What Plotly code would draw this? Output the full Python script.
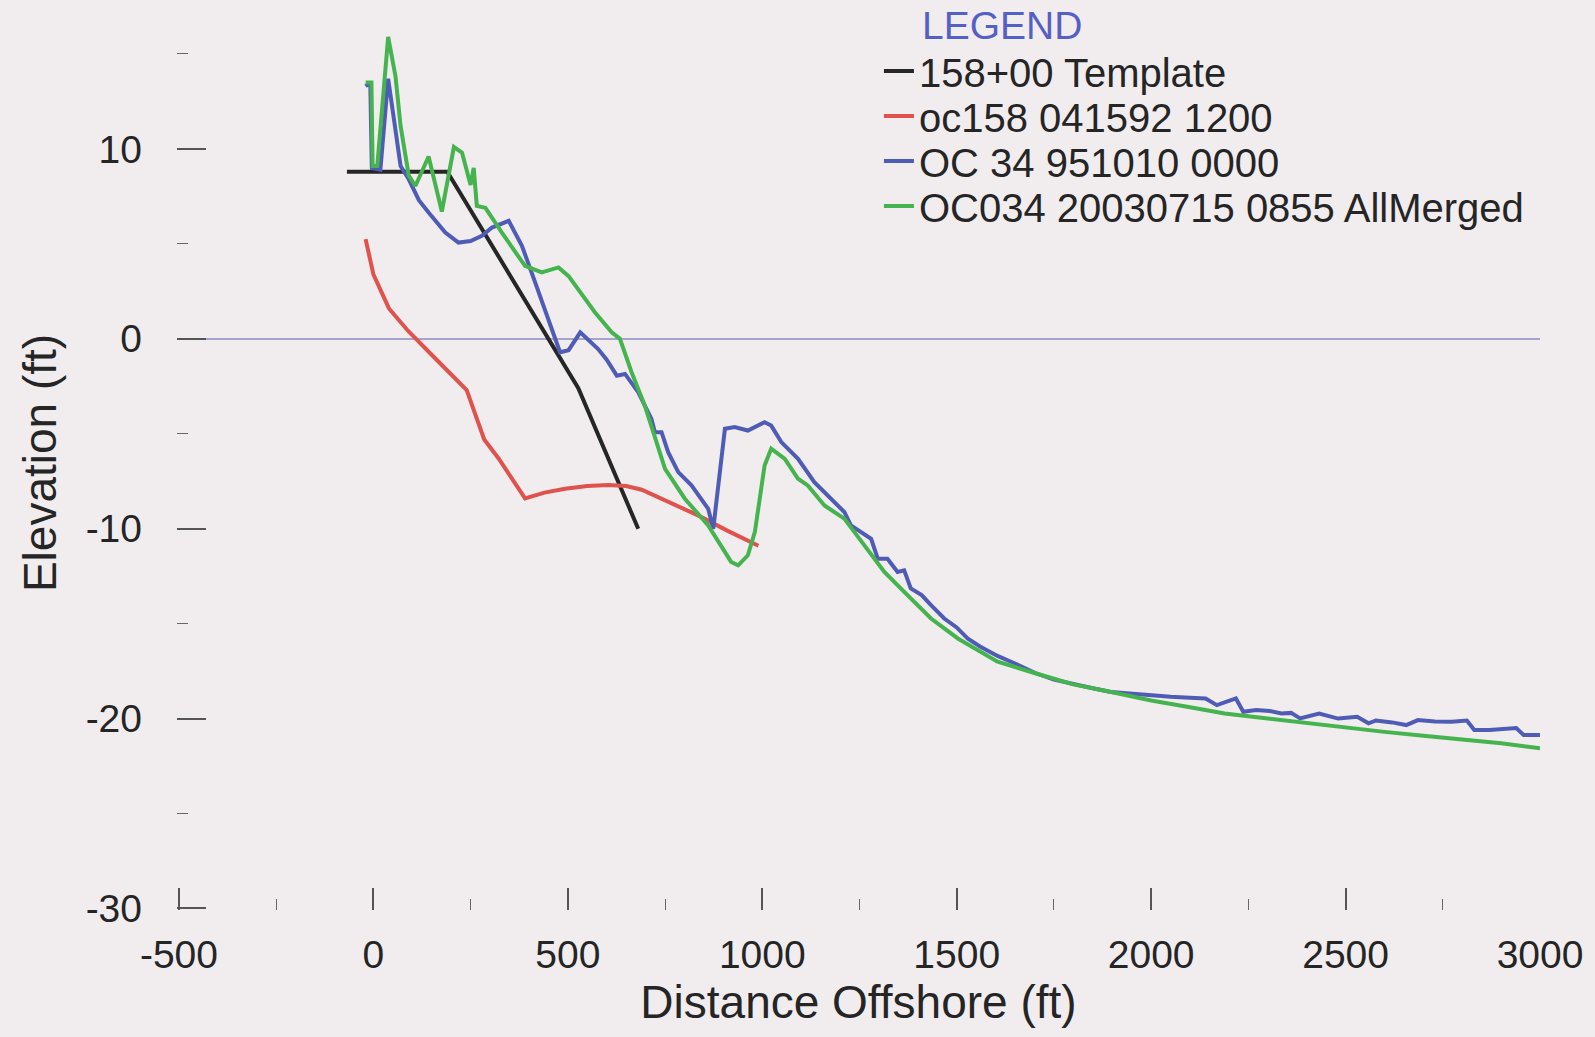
import plotly.graph_objects as go

# ---- data ----
template_x = [-68, 190, 527, 681]
template_y = [8.8, 8.8, -2.6, -10.0]

red_x = [-20, 0, 40, 90, 160, 240, 285, 322, 390, 440, 493, 550, 604, 650, 690, 750, 835, 910, 990]
red_y = [5.25, 3.4, 1.6, 0.4, -1.05, -2.7, -5.3, -6.3, -8.4, -8.1, -7.9, -7.75, -7.7, -7.75, -7.95, -8.5, -9.3, -10.1, -10.9]

blue_x = [-20, -8, -4, 18, 38, 70, 91, 117, 142, 185, 219, 250, 279, 305, 348, 382, 416, 451, 480, 502,
          532, 578, 600, 626, 647, 681, 715, 724, 741, 758, 784, 818, 844, 861, 874, 904, 929, 963, 1006, 1023,
          1049, 1092, 1134, 1177, 1211, 1228, 1254, 1280, 1297, 1322, 1348, 1365, 1382, 1410, 1434, 1468, 1500, 1528, 1560, 1605,
          1650, 1702, 1750, 1800, 1850, 1897, 1950, 1994, 2050, 2100, 2140, 2169, 2218, 2237, 2270, 2305, 2335, 2360, 2383, 2432,
          2481, 2530, 2559, 2578, 2620, 2656, 2686, 2730, 2773, 2812, 2831, 2870, 2910, 2939, 2958, 3000]
blue_y = [13.3, 13.5, 9.0, 8.9, 13.7, 9.1, 8.4, 7.3, 6.65, 5.6, 5.07, 5.15, 5.42, 5.86, 6.21, 4.9, 2.97, 1.04, -0.71, -0.6,
          0.34, -0.54, -1.1, -1.94, -1.85, -2.81, -4.22, -4.92, -4.92, -5.97, -7.02, -7.72, -8.42, -8.95, -10.0, -4.74, -4.65, -4.83, -4.39, -4.57,
          -5.44, -6.32, -7.55, -8.42, -9.12, -9.83, -10.17, -10.53, -11.58, -11.58, -12.28, -12.19, -13.15, -13.5, -14.03, -14.73, -15.2, -15.78, -16.2, -16.7,
          -17.1, -17.6, -17.95, -18.2, -18.4, -18.6, -18.7, -18.76, -18.85, -18.9, -18.94, -19.29, -18.94, -19.64, -19.55, -19.6, -19.73, -19.7, -19.99, -19.73,
          -20.0, -19.9, -20.25, -20.1, -20.2, -20.34, -20.08, -20.15, -20.17, -20.1, -20.6, -20.6, -20.55, -20.5, -20.87, -20.87]

green_x = [-20, -5, -2, 10, 38, 57, 70, 91, 108, 142, 176, 207, 228, 250, 258, 266, 288, 330, 390, 433,
           476, 502, 570, 613, 634, 664, 698, 724, 750, 801, 861, 920, 938, 963, 981, 1006, 1023, 1058, 1092, 1117,
           1160, 1211, 1263, 1314, 1365, 1434, 1503, 1605, 1700, 1800, 1897, 2000, 2100, 2189, 2300, 2400, 2481, 2600, 2700, 2773,
           2900, 3000]
green_y = [13.5, 13.5, 9.1, 9.1, 15.9, 13.8, 11.2, 8.6, 8.05, 9.6, 6.7, 10.1, 9.8, 8.1, 9.0, 7.0, 6.9, 5.6, 3.84, 3.5,
           3.76, 3.3, 1.39, 0.34, 0.0, -1.76, -3.52, -5.27, -6.85, -8.42, -9.83, -11.75, -11.93, -11.4, -10.17, -6.67, -5.79, -6.32, -7.37, -7.72,
           -8.78, -9.47, -10.88, -12.28, -13.33, -14.73, -15.78, -17.0, -17.6, -18.2, -18.6, -19.05, -19.4, -19.73, -20.0, -20.25, -20.43, -20.7, -20.9, -21.04,
           -21.3, -21.56]

series_names = ["158+00 Template", "oc158 041592 1200", "OC 34 951010 0000", "OC034 20030715 0855 AllMerged"]
x_ticks = [-500, 0, 500, 1000, 1500, 2000, 2500, 3000]
x_tick_text = ["-500", "0", "500", "1000", "1500", "2000", "2500", "3000"]
y_ticks = [-30, -20, -10, 0, 10]
y_tick_text = ["-30", "-20", "-10", "0", "10"]

# ---- style ----
FONT = "Liberation Sans, Arial, Helvetica, sans-serif"
TXT = "#252525"
BG = "#F1EDEF"
colors = ["#262626", "#E0524C", "#4F5CB6", "#45B34E"]

fig = go.Figure()
data = [(template_x, template_y), (red_x, red_y), (blue_x, blue_y), (green_x, green_y)]
legend_ids = ["legend", "legend2", "legend3", "legend4"]
for (xs, ys), name, c, lg in zip(data, series_names, colors, legend_ids):
    fig.add_trace(go.Scatter(x=xs, y=ys, mode="lines", name=name,
                             line=dict(color=c, width=4), legend=lg))

L, R, T, B = 177, 53, 16, 127
W, H = 1595, 1037
plot_h = H - T - B


def ypaper(px):
    return (H - B - px) / plot_h


leg_x = 0.515
legend_common = dict(x=leg_x, xanchor="left", yanchor="middle", bgcolor="rgba(0,0,0,0)",
                     font=dict(family=FONT, size=40, color=TXT), borderwidth=0)

fig.update_layout(
    width=W, height=H,
    margin=dict(l=L, r=R, t=T, b=B),
    paper_bgcolor=BG, plot_bgcolor=BG,
    font=dict(family=FONT, color=TXT),
    showlegend=True,
    legend=dict(y=ypaper(71), **legend_common),
    legend2=dict(y=ypaper(116), **legend_common),
    legend3=dict(y=ypaper(161), **legend_common),
    legend4=dict(y=ypaper(206), **legend_common),
    xaxis=dict(
        range=[-505, 3000], tickmode="array", tickvals=x_ticks, ticktext=x_tick_text,
        ticks="inside", ticklen=22, tickwidth=1.5, tickcolor="#555555",
        minor=dict(dtick=250, ticks="inside", ticklen=11, tickwidth=1.2, tickcolor="#666666"),
        showgrid=False, zeroline=False, showline=False,
        tickfont=dict(family=FONT, size=39, color=TXT), ticklabelstandoff=18,
        title=dict(text="Distance Offshore (ft)", font=dict(family=FONT, size=46, color=TXT), standoff=8),
    ),
    yaxis=dict(
        range=[-30.08, 17], tickmode="array", tickvals=y_ticks, ticktext=y_tick_text,
        ticks="inside", ticklen=29, tickwidth=1.5, tickcolor="#555555",
        minor=dict(dtick=5, ticks="inside", ticklen=11, tickwidth=1.2, tickcolor="#666666"),
        showgrid=False, zeroline=True, zerolinecolor="#A4A4CC", zerolinewidth=1.5, showline=False,
        tickfont=dict(family=FONT, size=39, color=TXT), ticklabelstandoff=34,
        title=dict(text="Elevation (ft)", font=dict(family=FONT, size=46, color=TXT), standoff=14),
    ),
    annotations=[dict(text="LEGEND", xref="paper", yref="paper", x=(921 - L) / (W - L - R), y=ypaper(26),
                      xanchor="left", yanchor="middle", showarrow=False,
                      font=dict(family=FONT, size=39, color="#5560C4"))],
)

fig.write_html("out.html", config={"displayModeBar": False},
               post_script="document.body.style.margin='0';document.body.style.overflow='hidden';")
